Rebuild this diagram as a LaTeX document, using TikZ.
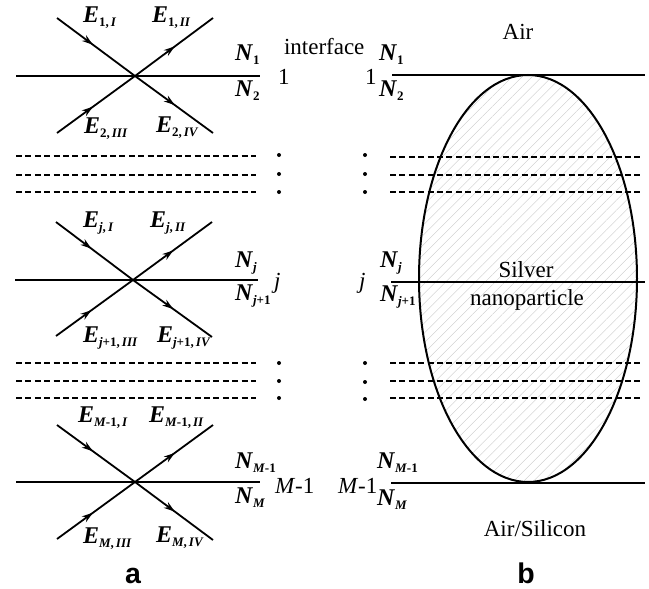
\documentclass[tikz,border=0pt]{standalone}
\usepackage{fontspec}
\setmainfont{Liberation Serif}
\setsansfont{Liberation Sans}
\usetikzlibrary{arrows.meta, shapes.geometric, patterns.meta, decorations.markings}

\newcommand{\labE}[2]{\textbf{\textit{E}}\raisebox{-4pt}{\fontsize{13}{13}\selectfont\bfseries #1,\,\textit{#2}}}
\newcommand{\labN}[1]{\textbf{\textit{N}}\raisebox{-4pt}{\fontsize{13}{13}\selectfont\bfseries #1}}

\begin{document}
\begin{tikzpicture}[
  x=1pt, y=-1pt,
  every node/.style={inner sep=0pt, outer sep=0pt},
  txt/.style={anchor=base west, font=\fontsize{24}{28}\selectfont},
  plain/.style={anchor=base west, font=\fontsize{23}{27}\selectfont},
  big/.style={anchor=base, font=\sffamily\bfseries\fontsize{28.5}{32}\selectfont},
  iface/.style={line width=2pt},
  layer/.style={line width=1.8pt, dash pattern=on 6pt off 3.4pt},
  inray/.style={line width=1.8pt, postaction={decorate}, decoration={markings,
    mark=at position 0.46 with {\arrow{Stealth[length=11pt, width=7pt]}}}},
  outray/.style={line width=1.8pt, postaction={decorate}, decoration={markings,
    mark=at position 0.51 with {\arrow{Stealth[length=11pt, width=7pt]}}}},
  pt/.style={circle, fill=black, minimum size=4pt},
  particle/.style={ellipse, draw=black, line width=2pt, minimum width=218pt, minimum height=407pt,
    pattern={Lines[angle=45, distance=7pt, line width=0.35pt]}, pattern color=black!22}
]
\useasboundingbox (0,0) rectangle (649,589);

% === PANEL A: TOP CROSSING ===
\coordinate (c1) at (135,76);
\coordinate (tl1) at (57,18);
\coordinate (tr1) at (213,18);
\coordinate (bl1) at (57,133);
\coordinate (br1) at (213,133);
\coordinate (w1) at (16,76);
\coordinate (e1) at (260,76);
\draw[iface] (w1) -- (e1);
\draw[inray] (tl1) -- (c1);
\draw[outray] (c1) -- (tr1);
\draw[inray] (bl1) -- (c1);
\draw[outray] (c1) -- (br1);
\node[txt] (e1i) at (83,23) {\labE{1}{I}};
\node[txt] (e1ii) at (152,23) {\labE{1}{II}};
\node[txt] (e2iii) at (84,133) {\labE{2}{III}};
\node[txt] (e2iv) at (156,132) {\labE{2}{IV}};
\node[txt] (na1) at (235,60) {\labN{1}};
\node[txt] (na2) at (235,96) {\labN{2}};
\node[plain] (ia1) at (278,84) {1};
\node[plain] (iface) at (284,54) {interface};

% === PANEL A: DOTTED LAYERS ===
\draw[layer] (16,156) -- (256,156);
\draw[layer] (16,175) -- (256,175);
\draw[layer] (16,192) -- (256,192);
\node[pt] (da1) at (279,155) {};
\node[pt] (da2) at (279,174) {};
\node[pt] (da3) at (279,192) {};

% === PANEL A: MIDDLE CROSSING ===
\coordinate (c2) at (133,280);
\coordinate (tl2) at (56,222);
\coordinate (tr2) at (212,222);
\coordinate (bl2) at (56,336);
\coordinate (br2) at (212,337);
\coordinate (w2) at (15,280);
\coordinate (e2) at (258,280);
\draw[iface] (w2) -- (e2);
\draw[inray] (tl2) -- (c2);
\draw[outray] (c2) -- (tr2);
\draw[inray] (bl2) -- (c2);
\draw[outray] (c2) -- (br2);
\node[txt] (eji) at (83,227) {\labE{\textit{j}}{I}};
\node[txt] (ejii) at (150,227) {\labE{\textit{j}}{II}};
\node[txt] (ekiii) at (83,342) {\labE{\textit{j}+1}{III}};
\node[txt] (ekiv) at (157,342) {\labE{\textit{j}+1}{IV}};
\node[txt] (naj) at (235,267) {\labN{\textit{j}}};
\node[txt] (nak) at (235,300) {\labN{\textit{j}+1}};
\node[plain] (iaj) at (274,288) {\textit{j}};

% === PANEL A: DOTTED LAYERS ===
\draw[layer] (16,363) -- (256,363);
\draw[layer] (16,381) -- (256,381);
\draw[layer] (16,398) -- (256,398);
\node[pt] (da4) at (279,363) {};
\node[pt] (da5) at (279,381) {};
\node[pt] (da6) at (279,398) {};

% === PANEL A: BOTTOM CROSSING ===
\coordinate (c3) at (135,482);
\coordinate (tl3) at (57,425);
\coordinate (tr3) at (213,425);
\coordinate (bl3) at (57,539);
\coordinate (br3) at (213,540);
\coordinate (w3) at (16,482);
\coordinate (e3) at (260,482);
\draw[iface] (w3) -- (e3);
\draw[inray] (tl3) -- (c3);
\draw[outray] (c3) -- (tr3);
\draw[inray] (bl3) -- (c3);
\draw[outray] (c3) -- (br3);
\node[txt] (emi) at (78,422) {\labE{\textit{M}-1}{I}};
\node[txt] (emii) at (149,422) {\labE{\textit{M}-1}{II}};
\node[txt] (eniii) at (83,543) {\labE{\textit{M}}{III}};
\node[txt] (eniv) at (156,542) {\labE{\textit{M}}{IV}};
\node[txt] (nam) at (235,468) {\labN{\textit{M}-1}};
\node[txt] (nan) at (235,503) {\labN{\textit{M}}};
\node[plain] (iam) at (275,493) {\textit{M}-1};
\node[big] (capa) at (133,583) {a};

% === PANEL B: PARTICLE AND LINES ===
\node[particle] (np) at (528,278.5) {};
\coordinate (w4) at (392,75);
\coordinate (e4) at (645,75);
\coordinate (w5) at (391,282);
\coordinate (e5) at (645,282);
\coordinate (w6) at (391,483);
\coordinate (e6) at (645,483);
\draw[iface] (w4) -- (e4);
\draw[iface] (w5) -- (e5);
\draw[iface] (w6) -- (e6);
\draw[layer] (390,157) -- (640,157);
\draw[layer] (390,175) -- (640,175);
\draw[layer] (390,192) -- (640,192);
\draw[layer] (390,363) -- (640,363);
\draw[layer] (390,381) -- (640,381);
\draw[layer] (390,398) -- (640,398);
\node[pt] (db1) at (365,155) {};
\node[pt] (db2) at (365,174) {};
\node[pt] (db3) at (365,192) {};
\node[pt] (db4) at (365,363) {};
\node[pt] (db5) at (365,382) {};
\node[pt] (db6) at (365,399) {};

% === PANEL B: LABELS ===
\node[plain] (ib1) at (365,84) {1};
\node[txt] (nb1) at (379,60) {\labN{1}};
\node[txt] (nb2) at (379,96) {\labN{2}};
\node[plain] (ibj) at (359,288) {\textit{j}};
\node[txt] (nbj) at (380,267) {\labN{\textit{j}}};
\node[txt] (nbk) at (380,301) {\labN{\textit{j}+1}};
\node[plain] (ibm) at (338,493) {\textit{M}-1};
\node[txt] (nbm) at (377,468) {\labN{\textit{M}-1}};
\node[txt] (nbn) at (377,505) {\labN{\textit{M}}};
\node[plain, anchor=base] (air) at (518,39) {Air};
\node[plain, anchor=base] (silver) at (526,277) {Silver};
\node[plain, anchor=base] (nano) at (527,305) {nanoparticle};
\node[plain, anchor=base] (airsi) at (535,536) {Air/Silicon};
\node[big] (capb) at (526,583) {b};

\end{tikzpicture}
\end{document}
